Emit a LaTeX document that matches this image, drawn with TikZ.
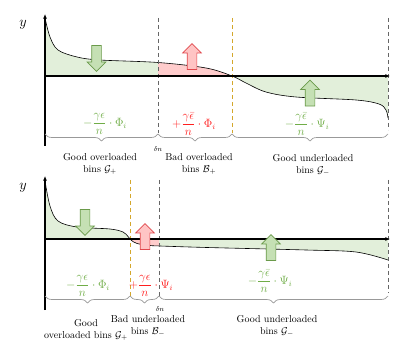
\documentclass[tikz,border=0pt]{standalone}
\usepackage{amsmath,amssymb}
\usetikzlibrary{arrows.meta,shapes.arrows,decorations.pathreplacing}
\definecolor{goodfill}{HTML}{E2EFDA}
\definecolor{badfill}{HTML}{FFCCCC}
\definecolor{goodarr}{HTML}{C5E0B4}
\definecolor{goodline}{HTML}{6A9A4A}
\definecolor{badarr}{HTML}{FFC4C4}
\definecolor{badline}{HTML}{E0474C}
\definecolor{goodtxt}{HTML}{70AD47}
\definecolor{badtxt}{HTML}{FF1F1F}
\definecolor{gold}{HTML}{D4A72C}
\definecolor{greyline}{HTML}{666666}

\begin{document}
\begin{tikzpicture}[x=1pt, y=-1pt, font=\normalsize,
  ax/.style={-{Latex[length=1.6mm, width=1.4mm]}, line width=1.4pt},
  curve/.style={line width=0.6pt},
  split/.style={dashed, dash pattern=on 4pt off 3pt, line width=0.9pt, draw=greyline},
  turn/.style={split, draw=gold},
  brace/.style={draw=black!40, line width=0.7pt, decorate, decoration={brace, mirror, amplitude=7pt}},
  fat/.style={single arrow, draw, line width=0.7pt, minimum height=26pt, inner sep=4.5pt,
    single arrow head extend=4.5pt, single arrow tip angle=90},
  goodarrow/.style={fat, fill=goodarr, draw=goodline},
  badarrow/.style={fat, fill=badarr, draw=badline},
  term/.style={font=\large, inner sep=0pt},
  group/.style={align=center, inner sep=0pt}]
\useasboundingbox (0,0) rectangle (412,347);

% ---------- upper panel ----------
\def\uppercurve{plot[smooth, tension=0.55] coordinates {(45,18) (50,37) (58,50) (77,57) (100,60) (158,62.5) (206,68) (232,76) (246,83) (266,92) (296,97) (356,100) (379,104) (386,110) (388,118)}}
\begin{scope}
  \clip (45,0) rectangle (158,160);
  \fill[goodfill] \uppercurve -- (388,76) -- (45,76) -- cycle;
\end{scope}
\begin{scope}
  \clip (158,0) rectangle (232,160);
  \fill[badfill] \uppercurve -- (388,76) -- (45,76) -- cycle;
\end{scope}
\begin{scope}
  \clip (232,0) rectangle (388,160);
  \fill[goodfill] \uppercurve -- (388,76) -- (45,76) -- cycle;
\end{scope}
\draw[curve] \uppercurve;

\coordinate (uo) at (45,76);
\coordinate (ux) at (390,76);
\coordinate (uy) at (45,14);
\coordinate (ub) at (45,146);

\draw[split] (158,18) -- (158,133);
\draw[turn] (232,18) -- (232,133);
\draw[split] (388,18) -- (388,130);

\draw[ax] (uo) -- (ux);
\draw[ax] (ub) -- (uy);
\node (ulab) at (23,25) {\Large$y$};

\node[goodarrow, rotate=-90] (ua1) at (96.5,56) {};
\node[badarrow, rotate=90] (ua2) at (192,59) {};
\node[goodarrow, rotate=90] (ua3) at (310,95.5) {};

\node[term, text=goodtxt] (ut1) at (105,124) {$\displaystyle -\frac{\gamma\epsilon}{n}\cdot\Phi_i$};
\node[term, text=badtxt] (ut2) at (194,124) {$\displaystyle +\frac{\gamma\bar\epsilon}{n}\cdot\Phi_i$};
\node[term, text=goodtxt] (ut3) at (307,124) {$\displaystyle -\frac{\gamma\bar\epsilon}{n}\cdot\Psi_i$};

\draw[brace] (45,134) -- (158,134);
\draw[brace] (158,134) -- (232,134);
\draw[brace] (232,134) -- (388,134);
\node[font=\scriptsize] (udn) at (158,149) {$\delta n$};

\node[group] (ug1) at (100,164) {Good overloaded\\bins $\mathcal{G}_+$};
\node[group] (ug2) at (199,164) {Bad overloaded\\bins $\mathcal{B}_+$};
\node[group] (ug3) at (313,165) {Good underloaded\\bins $\mathcal{G}_-$};

% ---------- lower panel ----------
\def\lowercurve{plot[smooth, tension=0.55] coordinates {(45,181) (50,206) (58,221) (77,227) (110,229) (123,232) (128,236.5) (131,240) (137,243.5) (150,245.5) (160,246) (207,247.5) (306,250) (356,252) (388,260)}}
\begin{scope}
  \clip (45,170) rectangle (130,320);
  \fill[goodfill] \lowercurve -- (388,239) -- (45,239) -- cycle;
\end{scope}
\begin{scope}
  \clip (130,170) rectangle (159,320);
  \fill[badfill] \lowercurve -- (388,239) -- (45,239) -- cycle;
\end{scope}
\begin{scope}
  \clip (159,170) rectangle (388,320);
  \fill[goodfill] \lowercurve -- (388,239) -- (45,239) -- cycle;
\end{scope}
\draw[curve] \lowercurve;

\coordinate (lo) at (45,239);
\coordinate (lx) at (390,239);
\coordinate (ly) at (45,176);
\coordinate (lb) at (45,310);

\draw[turn] (130,180) -- (130,296);
\draw[split] (159,180) -- (159,296);
\draw[split] (388,180) -- (388,293);

\draw[ax] (lo) -- (lx);
\draw[ax] (lb) -- (ly);
\node (llab) at (23,188) {\Large$y$};

\node[goodarrow, rotate=-90] (la1) at (85,220) {};
\node[badarrow, rotate=90] (la2) at (145,239) {};
\node[goodarrow, rotate=90] (la3) at (271,250) {};

\node[term, text=goodtxt] (lt1) at (88,286) {$\displaystyle -\frac{\gamma\epsilon}{n}\cdot\Phi_i$};
\node[term, text=badtxt] (lt2) at (151,286) {$\displaystyle +\frac{\gamma\epsilon}{n}\cdot\Psi_i$};
\node[term, text=goodtxt] (lt3) at (270,281) {$\displaystyle -\frac{\gamma\bar\epsilon}{n}\cdot\Psi_i$};

\draw[brace] (45,296) -- (130,296);
\draw[brace] (130,296) -- (159,296);
\draw[brace] (159,296) -- (388,296);
\node[font=\scriptsize] (ldn) at (160,309) {$\delta n$};

\node[group] (lg1) at (86,330) {Good\\overloaded bins $\mathcal{G}_+$};
\node[group] (lg2) at (148,326) {Bad underloaded\\bins $\mathcal{B}_-$};
\node[group] (lg3) at (277,326) {Good underloaded\\bins $\mathcal{G}_-$};
\end{tikzpicture}
\end{document}
